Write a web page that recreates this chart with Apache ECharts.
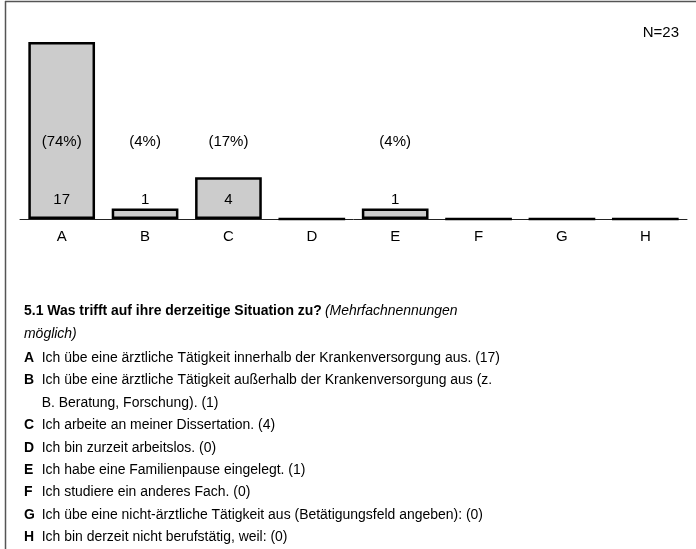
<!DOCTYPE html>
<html>
<head>
<meta charset="utf-8">
<script src="https://cdn.jsdelivr.net/npm/echarts@6/dist/echarts.min.js"></script>
<style>html,body{margin:0;padding:0;background:#fff;}#c{width:696px;height:549px;}</style>
</head>
<body>
<div id="c"></div>
<script>
const categories = ['A','B','C','D','E','F','G','H'];
const counts = [17, 1, 4, 0, 1, 0, 0, 0];
const totalN = 23;
const questionBold = '5.1 Was trifft auf ihre derzeitige Situation zu?';
const questionItalic1 = '(Mehrfachnennungen';
const questionItalic2 = 'möglich)';
const answerLines = [
  ['A', 'Ich übe eine ärztliche Tätigkeit innerhalb der Krankenversorgung aus. (17)'],
  ['B', 'Ich übe eine ärztliche Tätigkeit außerhalb der Krankenversorgung aus (z.'],
  ['',  'B. Beratung, Forschung). (1)'],
  ['C', 'Ich arbeite an meiner Dissertation. (4)'],
  ['D', 'Ich bin zurzeit arbeitslos. (0)'],
  ['E', 'Ich habe eine Familienpause eingelegt. (1)'],
  ['F', 'Ich studiere ein anderes Fach. (0)'],
  ['G', 'Ich übe eine nicht-ärztliche Tätigkeit aus (Betätigungsfeld angeben): (0)'],
  ['H', 'Ich bin derzeit nicht berufstätig, weil: (0)']
];

const chart = echarts.init(document.getElementById('c'), null, {renderer: 'canvas'});
const FONT = '"Liberation Sans", Arial, sans-serif';
const SX = 0.9;

const graphics = [];
// frame
graphics.push({type: 'line', shape: {x1: 5, y1: 1.5, x2: 696, y2: 1.5}, style: {stroke: '#555', lineWidth: 1.5}, silent: true});
graphics.push({type: 'line', shape: {x1: 5.5, y1: 1, x2: 5.5, y2: 549}, style: {stroke: '#555', lineWidth: 1.5}, silent: true});
// N label
graphics.push({type: 'text', right: 17, top: 25, style: {text: 'N=' + totalN, font: '15px ' + FONT, fill: '#000'}});
// question
graphics.push({type: 'text', x: 24, y: 311, scaleX: SX, style: {
  text: '{b|' + questionBold + '} {i|' + questionItalic1 + '}',
  rich: {b: {font: 'bold 15.5px ' + FONT, fill: '#000'}, i: {font: 'italic 15.5px ' + FONT, fill: '#000'}},
  verticalAlign: 'middle'
}});
graphics.push({type: 'text', x: 24, y: 334, scaleX: SX, style: {text: questionItalic2, font: 'italic 15.5px ' + FONT, fill: '#000', verticalAlign: 'middle'}});
answerLines.forEach((ln, i) => {
  const y = 357.5 + i * 22.45;
  if (ln[0]) {
    graphics.push({type: 'text', x: 24, y: y, scaleX: SX, style: {text: ln[0], font: 'bold 15.5px ' + FONT, fill: '#000', verticalAlign: 'middle'}});
  }
  graphics.push({type: 'text', x: 41.7, y: y, scaleX: SX, style: {text: ln[1], font: '15.5px ' + FONT, fill: '#000', verticalAlign: 'middle'}});
});

chart.setOption({
  animation: false,
  backgroundColor: '#fff',
  grid: {left: 20, right: 9, top: 42, bottom: 330},
  xAxis: [{
    type: 'category', data: categories, position: 'bottom',
    axisLine: {lineStyle: {color: '#222', width: 1}},
    axisTick: {alignWithLabel: true, length: 5, lineStyle: {color: '#222'}},
    axisLabel: {fontSize: 15, fontFamily: FONT, color: '#000', margin: 10}
  }, {
    type: 'category', data: categories, position: 'bottom', z: 10,
    axisLine: {show: false},
    axisTick: {alignWithLabel: true, inside: true, length: 6, lineStyle: {color: '#222'}},
    axisLabel: {show: false}
  }],
  yAxis: {type: 'value', min: 0, max: 17, show: false, splitLine: {show: false}},
  series: [{
    type: 'bar', data: counts, barWidth: '80%', xAxisIndex: 0,
    itemStyle: {color: '#cccccc', borderColor: '#000', borderWidth: 2.5},
    label: {show: true, position: 'insideBottom', distance: 12, fontSize: 15, fontFamily: FONT, color: '#000',
      formatter: p => p.value > 0 ? String(p.value) : ''}
  }, {
    type: 'bar', data: counts, barWidth: '80%', barGap: '-100%', xAxisIndex: 0,
    itemStyle: {color: 'rgba(0,0,0,0)', borderWidth: 0}, silent: true,
    label: {show: true, position: 'insideBottom', distance: 70, fontSize: 15, fontFamily: FONT, color: '#000',
      formatter: p => p.value > 0 ? '(' + Math.round(p.value / totalN * 100) + '%)' : ''}
  }],
  graphic: graphics
});
</script>
</body>
</html>
